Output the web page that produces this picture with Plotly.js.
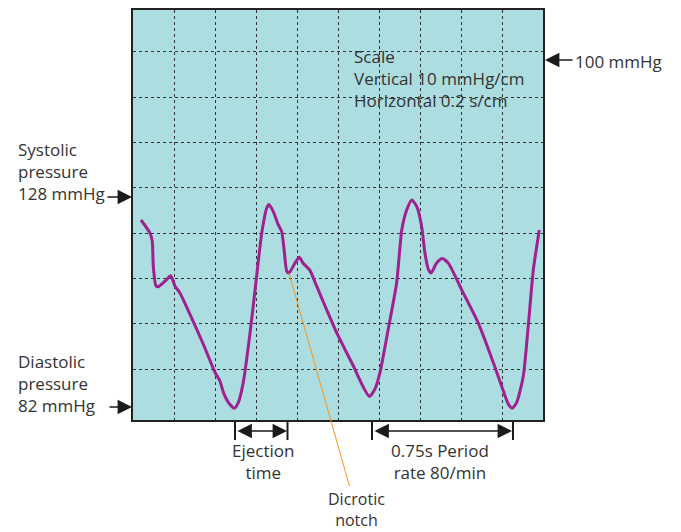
<!DOCTYPE html>
<html>
<head>
<meta charset="utf-8">
<script src="https://cdn.plot.ly/plotly-3.0.1.min.js"></script>
<style>html,body{margin:0;padding:0;background:#fff;}#chart{width:681px;height:532px;}</style>
</head>
<body>
<div id="chart"></div>
<script>
// Time in seconds (0.2 s per grid square), pressure in mmHg (10 mmHg per grid square)
const timeS = [0.039,0.083,0.094,0.099,0.112,0.124,0.156,0.184,0.205,0.229,0.278,0.343,0.400,0.424,0.441,0.465,0.494,0.514,0.538,0.571,0.603,0.628,0.652,0.663,0.684,0.709,0.725,0.737,0.750,0.761,0.790,0.811,0.831,0.863,0.896,0.994,1.075,1.124,1.153,1.180,1.205,1.245,1.286,1.311,1.335,1.360,1.384,1.408,1.424,1.441,1.454,1.481,1.509,1.538,1.611,1.684,1.758,1.798,1.831,1.850,1.872,1.904,1.928,1.953,1.982];
const pressure = [122.9,120.0,118.2,112.7,108.4,108.2,109.4,110.6,108.3,106.8,102.1,95.5,89.3,87.4,84.9,82.7,81.4,82.7,87.1,98.0,110.5,120.0,125.5,126.3,124.8,121.8,120.4,116.4,111.6,111.2,113.4,114.7,113.3,111.8,108.3,98.0,90.7,86.0,84.0,85.6,89.3,98.8,109.0,120.7,125.1,127.3,125.9,121.5,115.6,112.0,111.2,113.4,114.4,113.4,106.8,100.2,91.4,86.3,82.3,81.4,82.7,88.5,99.5,112.0,120.7];
const gridTimes = [0.2,0.4,0.6,0.8,1.0,1.2,1.4,1.6,1.8];
const gridPressures = [90,100,110,120,130,140,150,160];
const notch = {t: 0.761, p: 111.2};
const scaleText = "Scale<br>Vertical 10 mmHg/cm<br>Horizontal 0.2 s/cm";
const systolicText = "Systolic<br>pressure<br>128 mmHg";
const diastolicText = "Diastolic<br>pressure<br>82 mmHg";
const refText = "100 mmHg";
const ejectionText = "Ejection<br>time";
const periodText = "0.75s Period<br>rate 80/min";
const notchText = "Dicrotic<br>notch";

const L = 133, R = 138, T = 10, B = 112, W = 681, H = 532;
const pw = W - L - R, ph = H - T - B;
const px = x => (x - L) / pw;
const py = y => (H - B - y) / ph;

const FONT = {family: "Open Sans, sans-serif", size: 17, color: "#333333"};
const annotations = [];
function text(t, x, y, xanchor, align) {
  annotations.push({text: t, xref: 'paper', yref: 'paper', x: px(x), y: py(y), xanchor: xanchor, yanchor: 'middle', align: align, showarrow: false, font: FONT});
}
function arrow(x0, y0, x1, y1, both) {
  annotations.push({text: '', xref: 'paper', yref: 'paper', x: px(x1), y: py(y1), axref: 'pixel', ayref: 'pixel', ax: x0 - x1, ay: y0 - y1,
    showarrow: true, arrowhead: 2, arrowsize: 1.8, arrowwidth: 1.6, arrowcolor: '#1a1a1a', arrowside: both ? 'end+start' : 'end', standoff: 0, startstandoff: 0});
}
text(scaleText, 352, 78, 'left', 'left');
text(systolicText, 16, 171, 'left', 'left');
text(diastolicText, 16, 383, 'left', 'left');
text(refText, 573, 61, 'left', 'left');
text(ejectionText, 263, 461, 'center', 'center');
text(periodText, 440, 461, 'center', 'center');
arrow(106, 197, 132, 197, false);
arrow(108, 407, 132, 407, false);
arrow(574, 60, 545, 60, false);
arrow(236, 431, 287, 431, true);
arrow(373, 431, 512, 431, true);
annotations.push({text: notchText, x: notch.t, y: notch.p, xref: 'x', yref: 'y', ax: 67, ay: 236, showarrow: true, arrowhead: 0, arrowwidth: 1, arrowcolor: '#f7941d',
  font: Object.assign({}, FONT, {size: 16}), align: 'center', standoff: 0});

const shapes = [];
function vbar(x, y0, y1) {
  shapes.push({type: 'line', xref: 'paper', yref: 'paper', x0: px(x), x1: px(x), y0: py(y0), y1: py(y1), line: {color: '#1a1a1a', width: 2}});
}
vbar(235, 422, 440); vbar(287.5, 422, 440); vbar(372, 422, 440); vbar(513, 422, 440);

const trace = {x: timeS, y: pressure, mode: 'lines', line: {color: '#a0208f', width: 3, shape: 'spline', smoothing: 0.6}, hoverinfo: 'none'};

const axisCommon = {showticklabels: false, ticks: '', zeroline: false, showline: true, mirror: true, linecolor: '#222', linewidth: 2, gridcolor: '#333', gridwidth: 1, griddash: 'dot', tickmode: 'array', fixedrange: true};
const layout = {
  width: W, height: H, margin: {l: L, r: R, t: T, b: B},
  paper_bgcolor: '#ffffff', plot_bgcolor: '#acdde0', showlegend: false,
  xaxis: Object.assign({}, axisCommon, {range: [0, 2], tickvals: gridTimes}),
  yaxis: Object.assign({}, axisCommon, {range: [78.8, 169.2], tickvals: gridPressures}),
  annotations: annotations, shapes: shapes
};
Plotly.newPlot('chart', [trace], layout, {staticPlot: true, displayModeBar: false});
</script>
</body>
</html>
